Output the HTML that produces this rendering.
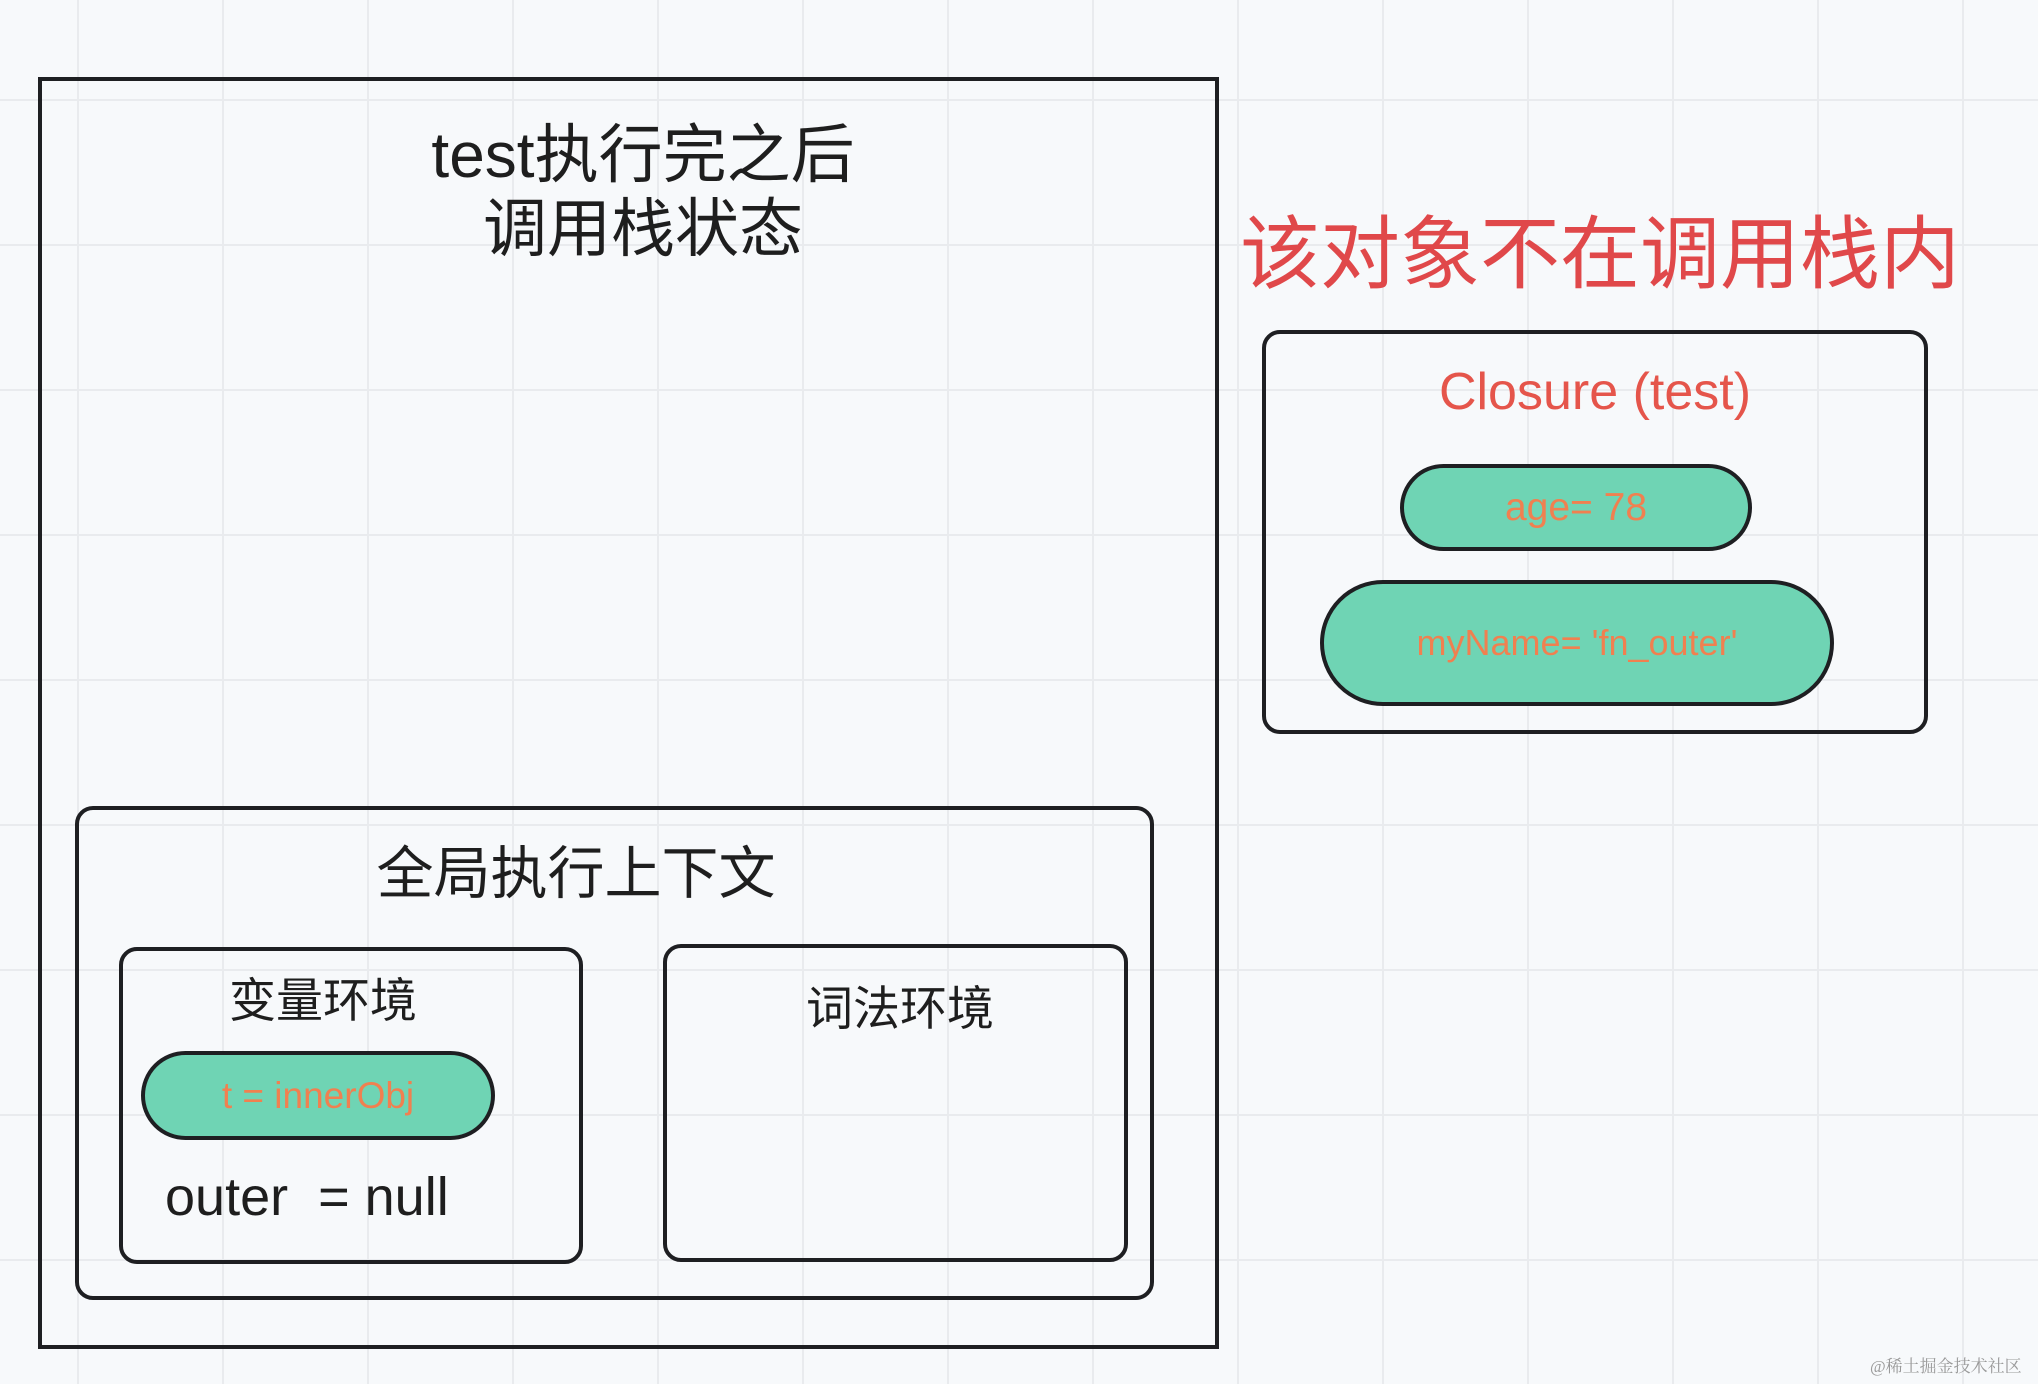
<!DOCTYPE html>
<html><head><meta charset="utf-8"><style>
html,body{margin:0;padding:0}
body{width:2038px;height:1384px;position:relative;overflow:hidden;background-color:#f7f9fb;
background-image:linear-gradient(to right,#e9ebee 2px,transparent 2px),linear-gradient(to bottom,#e9ebee 2px,transparent 2px);
background-size:145px 145px;background-position:77px 99px;
font-family:"Liberation Sans","Noto Sans CJK SC",sans-serif;color:#1e1e1e}
.box{position:absolute;border:4px solid #1e1f22;box-sizing:border-box;border-radius:18px}
.t{position:absolute;text-align:center;white-space:nowrap;line-height:1}
.pill{position:absolute;background:#6fd4b4;border:4px solid #1e1f22;box-sizing:border-box;border-radius:999px;color:#f08050;display:flex;align-items:center;justify-content:center}
</style></head><body>
<div class="box" style="left:38px;top:77px;width:1181px;height:1272px;border-radius:0"></div>
<div class="t" style="left:428px;width:430px;top:118px;font-size:64px;line-height:74px">test执行完之后<br>调用栈状态</div>

<div class="t" style="left:1230px;width:740px;top:215px;font-size:80px;color:#e0484a">该对象不在调用栈内</div>

<div class="box" style="left:1262px;top:330px;width:666px;height:404px"></div>
<div class="t" style="left:1262px;width:666px;top:366px;font-size:52px;color:#e5554b">Closure (test)</div>
<div class="pill" style="left:1400px;top:464px;width:352px;height:87px;font-size:39px">age= 78</div>
<div class="pill" style="left:1320px;top:580px;width:514px;height:126px;font-size:36px">myName= 'fn_outer'</div>

<div class="box" style="left:75px;top:806px;width:1079px;height:494px"></div>
<div class="t" style="left:75px;width:1002px;top:846px;font-size:57px">全局执行上下文</div>

<div class="box" style="left:119px;top:947px;width:464px;height:317px"></div>
<div class="t" style="left:119px;width:408px;top:977px;font-size:47px">变量环境</div>
<div class="pill" style="left:141px;top:1051px;width:354px;height:89px;font-size:37px">t = innerObj</div>
<div class="t" style="left:165px;top:1170px;font-size:54px;text-align:left">outer&nbsp; = null</div>

<div class="box" style="left:663px;top:944px;width:465px;height:318px"></div>
<div class="t" style="left:663px;width:474px;top:985px;font-size:47px">词法环境</div>

<div class="t" style="left:1870px;top:1358px;font-size:17px;color:#9a9a9a;font-family:'Liberation Serif','Noto Serif CJK SC',serif">@稀土掘金技术社区</div>
</body></html>
